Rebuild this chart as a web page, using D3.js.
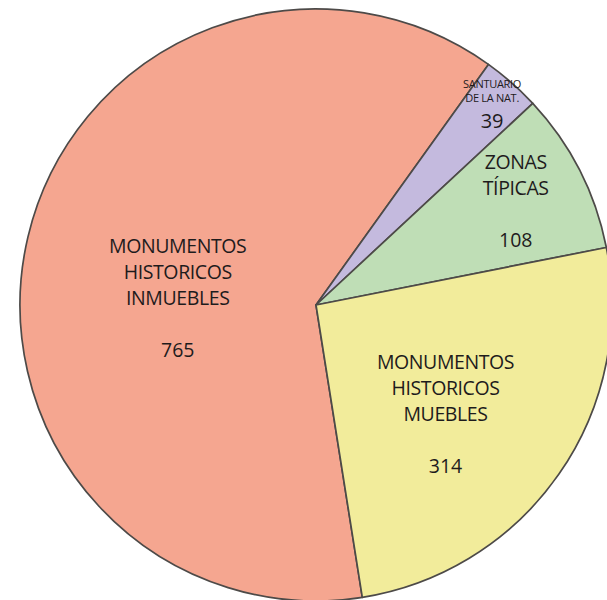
<!DOCTYPE html>
<html>
<head>
<meta charset="utf-8">
<script src="https://cdn.jsdelivr.net/npm/d3@7"></script>
<style>
  body { margin: 0; background: #fff; }
  text { font-family: "Open Sans", "Noto Sans", sans-serif; fill: #1e1b1c; }
</style>
</head>
<body>
<div id="chart"></div>
<script>
// Data
const categories = ["Monumentos históricos inmuebles", "Santuario de la naturaleza", "Zonas típicas", "Monumentos históricos muebles"];
const values = [765, 39, 108, 314];
const labelLines = [
    ["MONUMENTOS", "HISTORICOS", "INMUEBLES"],
    ["SANTUARIO", "DE LA NAT."],
    ["ZONAS", "TÍPICAS"],
    ["MONUMENTOS", "HISTORICOS", "MUEBLES"]
];
const colors = ["#f5a690", "#c4bade", "#bfdeb6", "#f2ec9b"];

const width = 607, height = 600;
const cx = 316, cy = 305, radius = 296;

// label layout: distance along the slice (fraction of radius) plus a small nudge
const labelRadius = [0.48, 0.88, 0.75, 0.55];
const labelNudge = [[0, 33], [4, -1], [2, 4], [-4, 23]];
const nameSize = [19.5, 11, 19.5, 19.5];
const nameGap = [26, 14, 26, 26];
const valueGap = [52, 26, 52, 52];

const svg = d3.select("#chart").append("svg")
    .attr("width", width)
    .attr("height", height);

const g = svg.append("g").attr("transform", `translate(${cx},${cy})`);

const startAngle = 171 * Math.PI / 180;
const pie = d3.pie().sort(null)
    .startAngle(startAngle)
    .endAngle(startAngle + 2 * Math.PI);

const arcs = pie(values);
const arc = d3.arc().innerRadius(0).outerRadius(radius);

g.selectAll("path.slice")
    .data(arcs)
    .enter()
    .append("path")
    .attr("class", "slice")
    .attr("d", arc)
    .attr("fill", (d, i) => colors[i])
    .attr("stroke", "#4d4a48")
    .attr("stroke-width", 1.7)
    .attr("stroke-linejoin", "round");

// labels
arcs.forEach((d, i) => {
    const r = radius * labelRadius[i];
    const la = d3.arc().innerRadius(r).outerRadius(r);
    const [x, y] = la.centroid(d);
    const lines = labelLines[i];
    const blockH = nameGap[i] * (lines.length - 1) + valueGap[i];
    const top = y + labelNudge[i][1] - blockH / 2;
    const t = g.append("g").attr("transform", `translate(${x + labelNudge[i][0]},${top})`);
    lines.forEach((ln, k) => {
        t.append("text")
            .attr("x", 0)
            .attr("y", k * nameGap[i])
            .attr("text-anchor", "middle")
            .style("font-size", nameSize[i] + "px")
            .style("letter-spacing", i === 1 ? "-0.3px" : "-0.4px")
            .text(ln);
    });
    t.append("text")
        .attr("x", 0)
        .attr("y", (lines.length - 1) * nameGap[i] + valueGap[i])
        .attr("text-anchor", "middle")
        .style("font-size", (i === 1 ? 20 : 19.5) + "px")
        .text(values[i]);
});
</script>
</body>
</html>
